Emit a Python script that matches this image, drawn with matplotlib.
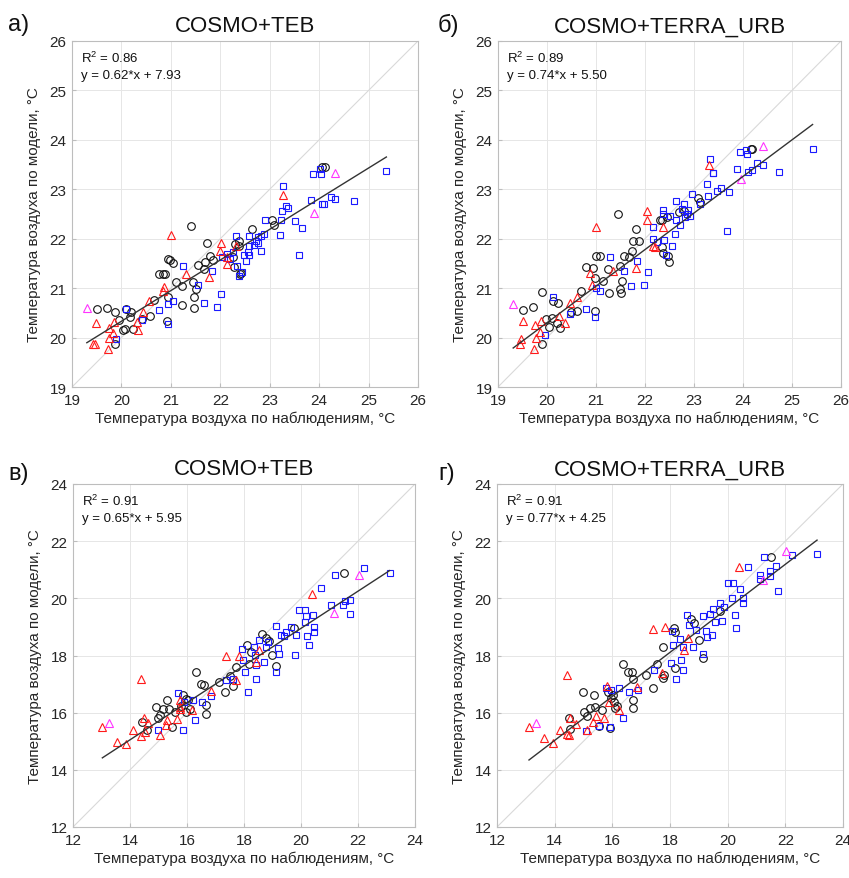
import numpy as np
import matplotlib
matplotlib.use('Agg')
import matplotlib.pyplot as plt

plt.rcParams['font.family'] = ['Liberation Sans', 'DejaVu Sans']

# ---- panel a: COSMO+TEB (summer) ----
a_blk_x = [19.50, 19.70, 19.87, 19.87, 19.96, 20.03, 20.08, 20.09, 20.17, 20.19, 20.24, 20.41, 20.58, 20.66,
           20.75, 20.85, 20.88, 20.95, 20.98, 20.93, 20.95, 21.05, 21.10, 21.22, 21.22, 21.41, 21.44, 21.46,
           21.46, 21.51, 21.54, 21.67, 21.69, 21.74, 21.79, 21.85, 22.25, 22.27, 22.29, 22.37, 22.40, 22.42,
           22.64, 23.04, 23.08, 24.05, 24.12, 22.37]
a_blk_y = [20.57, 20.59, 20.52, 19.87, 20.36, 20.16, 20.17, 20.58, 20.41, 20.52, 20.17, 20.38, 20.43, 20.77,
           21.29, 21.29, 21.29, 21.59, 21.56, 20.34, 20.82, 21.51, 21.12, 20.65, 21.04, 22.25, 21.12, 20.82,
           20.59, 20.98, 21.46, 21.38, 21.52, 21.91, 21.66, 21.56, 21.62, 21.42, 21.89, 21.96, 21.29, 21.30,
           22.20, 22.37, 22.27, 23.45, 23.45, 21.85]
a_blu_x = [19.90, 20.09, 20.41, 20.75, 20.95, 20.95, 21.04, 21.24, 21.54, 21.67, 21.93, 21.83, 22.02, 22.03,
           22.14, 22.20, 22.32, 22.25, 22.33, 22.37, 22.44, 22.47, 22.52, 22.57, 22.58, 22.59, 22.58, 22.68,
           22.72, 22.77, 22.83, 22.77, 22.83, 22.89, 22.91, 23.20, 23.22, 23.24, 23.26, 23.33, 23.38, 23.51,
           23.60, 23.66, 23.83, 23.87, 24.03, 24.02, 24.05, 24.10, 24.24, 24.32, 24.70, 25.36]
a_blu_y = [19.97, 20.57, 20.36, 20.55, 20.28, 20.67, 20.75, 21.44, 21.07, 20.70, 20.61, 21.35, 20.88, 21.62,
           21.69, 21.59, 22.05, 21.73, 21.44, 21.24, 21.33, 21.67, 21.54, 21.73, 21.67, 21.85, 22.05, 21.87,
           21.96, 22.03, 22.06, 21.91, 21.75, 22.09, 22.38, 22.08, 22.38, 22.56, 23.06, 22.66, 22.63, 22.35,
           21.67, 22.21, 22.79, 23.31, 23.31, 23.41, 22.70, 22.70, 22.84, 22.81, 22.76, 23.37]
a_red_x = [19.43, 19.46, 19.48, 19.72, 19.74, 19.74, 19.84, 19.82, 20.34, 20.31, 20.44, 20.55, 20.86, 20.84,
           21.00, 21.31, 21.78, 22.01, 22.00, 22.13, 22.13, 22.32, 23.26]
a_red_y = [19.87, 19.86, 20.30, 19.76, 20.19, 20.00, 20.32, 20.09, 20.16, 20.31, 20.51, 20.75, 21.02, 20.95,
           22.08, 21.29, 21.22, 21.91, 21.76, 21.62, 21.49, 21.86, 22.89]
a_mag_x = [19.30, 24.32, 23.90]
a_mag_y = [20.59, 23.33, 22.52]

# ---- panel b: COSMO+TERRA_URB (summer) ----
b_blk_x = [19.50, 19.72, 19.89, 19.89, 19.98, 20.05, 20.10, 20.13, 20.20, 20.23, 20.27, 20.48, 20.62, 20.69,
           20.80, 20.93, 20.98, 20.98, 21.01, 21.08, 21.14, 21.27, 21.25, 21.44, 21.48, 21.49, 21.50, 21.54,
           21.57, 21.68, 21.73, 21.76, 21.82, 21.88, 22.31, 22.34, 22.36, 22.44, 22.46, 22.48, 22.69, 22.80,
           23.09, 23.12, 24.16, 24.18, 22.34]
b_blk_y = [20.56, 20.61, 20.93, 19.88, 20.38, 20.22, 20.39, 20.73, 20.29, 20.69, 20.19, 20.51, 20.54, 20.95,
           21.43, 21.41, 20.54, 21.21, 21.65, 21.65, 21.14, 20.90, 21.38, 22.49, 21.45, 20.99, 20.90, 21.14,
           21.65, 21.62, 21.76, 21.95, 22.20, 21.96, 22.37, 21.84, 21.72, 22.44, 21.65, 21.52, 22.54, 22.56,
           22.83, 22.74, 23.81, 23.82, 22.37]
b_blu_x = [19.96, 20.12, 20.47, 20.80, 20.98, 21.01, 21.08, 21.29, 21.57, 21.71, 21.83, 21.97, 22.07, 22.16,
           22.17, 22.25, 22.37, 22.37, 22.39, 22.43, 22.50, 22.56, 22.61, 22.63, 22.63, 22.71, 22.75, 22.80,
           22.82, 22.85, 22.88, 22.92, 22.95, 23.12, 23.26, 23.29, 23.33, 23.38, 23.39, 23.46, 23.56, 23.67,
           23.72, 23.88, 23.94, 24.07, 24.09, 24.11, 24.18, 24.29, 24.40, 24.74, 25.42]
b_blu_y = [20.05, 20.82, 20.48, 20.58, 20.41, 21.01, 20.94, 21.63, 21.35, 21.04, 21.54, 21.06, 21.33, 22.23,
           21.99, 21.93, 22.59, 22.50, 21.97, 21.67, 22.45, 21.86, 22.10, 22.76, 22.38, 22.27, 22.61, 22.71,
           22.44, 22.50, 22.59, 22.45, 22.90, 22.71, 23.10, 22.86, 23.61, 23.33, 23.32, 22.97, 23.03, 22.16,
           22.95, 23.42, 23.76, 23.80, 23.71, 23.35, 23.39, 23.54, 23.49, 23.35, 23.81]
b_red_x = [19.45, 19.46, 19.50, 19.73, 19.76, 19.78, 19.86, 19.87, 20.25, 20.37, 20.46, 20.61, 20.88, 20.91,
           21.01, 21.35, 21.82, 22.05, 22.05, 22.17, 22.20, 22.36, 23.31]
b_red_y = [19.88, 19.97, 20.33, 19.77, 20.26, 19.99, 20.12, 20.34, 20.43, 20.29, 20.70, 20.82, 21.31, 21.07,
           22.23, 21.35, 21.41, 22.56, 22.38, 21.86, 21.84, 22.23, 23.50]
b_mag_x = [19.31, 24.40, 23.95]
b_mag_y = [20.68, 23.88, 23.20]

# ---- panel c: COSMO+TEB (second period) ----
c_blk_x = [14.43, 14.60, 14.92, 14.98, 15.04, 15.16, 15.30, 15.37, 15.49, 15.57, 15.80, 15.86, 15.95, 15.98,
           16.03, 16.09, 16.30, 16.50, 16.58, 16.65, 16.68, 17.12, 17.32, 17.52, 17.61, 17.71, 18.12, 18.18,
           18.26, 18.64, 18.78, 18.88, 18.99, 19.13, 19.75, 21.50]
c_blk_y = [15.67, 15.38, 16.20, 15.81, 15.93, 16.14, 16.43, 16.14, 15.50, 16.04, 16.25, 16.63, 16.49, 16.02,
           16.43, 16.14, 17.44, 17.01, 16.98, 15.96, 16.28, 17.09, 16.72, 17.30, 16.93, 17.59, 18.35, 17.71,
           18.12, 18.76, 18.61, 18.49, 18.03, 17.63, 18.97, 20.88]
c_blu_x = [14.98, 15.68, 15.86, 15.88, 16.21, 16.27, 16.54, 16.85, 17.38, 17.61, 17.94, 17.96, 18.02, 18.13,
           18.34, 18.37, 18.41, 18.43, 18.53, 18.69, 18.78, 18.84, 19.11, 19.13, 19.19, 19.22, 19.30, 19.39,
           19.49, 19.66, 19.78, 19.81, 19.93, 20.13, 20.13, 20.19, 20.21, 20.28, 20.42, 20.47, 20.47, 20.71,
           21.06, 21.18, 21.47, 21.53, 21.71, 21.73, 22.20, 23.11]
c_blu_y = [15.38, 16.70, 15.41, 16.39, 16.43, 15.76, 16.39, 16.60, 17.13, 17.19, 18.21, 17.83, 17.44, 16.72,
           18.29, 18.03, 17.68, 17.19, 18.53, 17.79, 18.29, 18.47, 17.42, 19.03, 18.26, 18.06, 18.72, 18.68,
           18.82, 18.99, 18.03, 18.70, 19.58, 19.58, 19.17, 19.38, 18.68, 18.35, 19.40, 18.99, 18.82, 20.36,
           19.77, 20.80, 19.75, 19.89, 19.93, 19.46, 21.06, 20.88]
c_red_x = [13.03, 13.54, 13.85, 14.11, 14.40, 14.40, 14.48, 14.51, 14.63, 15.06, 15.25, 15.30, 15.65, 15.74,
           15.77, 15.77, 16.19, 16.85, 17.38, 17.81, 17.73, 18.43, 18.53, 20.40]
c_red_y = [15.50, 14.97, 14.91, 15.41, 17.19, 15.18, 15.81, 15.34, 15.65, 15.23, 15.58, 15.76, 15.79, 16.43,
           16.20, 16.14, 16.08, 16.76, 17.98, 18.00, 17.13, 17.79, 18.18, 20.16]
c_mag_x = [13.26, 22.04, 21.15]
c_mag_y = [15.65, 20.83, 19.49]

# ---- panel d: COSMO+TERRA_URB (second period) ----
d_blk_x = [14.50, 14.53, 14.97, 15.01, 15.13, 15.22, 15.36, 15.40, 15.55, 15.63, 15.86, 15.92, 15.97, 16.01,
           16.06, 16.09, 16.17, 16.38, 16.55, 16.67, 16.70, 16.70, 16.73, 17.17, 17.40, 17.54, 17.75, 17.75,
           17.79, 18.14, 18.18, 18.18, 18.72, 18.84, 19.02, 19.16, 19.72, 21.50]
d_blk_y = [15.81, 15.44, 16.72, 16.02, 15.90, 16.16, 16.63, 16.20, 15.53, 16.08, 16.72, 15.46, 16.51, 16.63,
           16.37, 16.16, 16.23, 17.71, 17.44, 17.42, 16.46, 16.16, 17.19, 17.33, 16.86, 17.71, 18.29, 17.21,
           17.33, 18.96, 18.82, 17.56, 19.26, 19.14, 18.53, 17.91, 19.54, 21.44]
d_blu_x = [15.08, 15.55, 15.92, 15.78, 15.94, 16.24, 16.36, 16.59, 16.90, 17.45, 18.03, 18.06, 18.10, 18.21,
           18.35, 18.37, 18.44, 18.44, 18.58, 18.67, 18.79, 18.91, 19.14, 19.14, 19.25, 19.28, 19.37, 19.45,
           19.48, 19.56, 19.72, 19.80, 19.88, 20.00, 20.15, 20.20, 20.26, 20.30, 20.44, 20.53, 20.53, 20.69,
           21.11, 21.11, 21.27, 21.46, 21.48, 21.69, 21.73, 22.23, 23.10]
d_blu_y = [15.36, 15.53, 15.50, 16.86, 16.81, 16.86, 15.81, 16.74, 16.78, 17.51, 17.75, 18.84, 18.35, 17.19,
           18.56, 17.83, 17.48, 18.29, 19.40, 19.05, 18.29, 18.88, 19.38, 18.06, 18.84, 18.64, 19.46, 18.72,
           19.63, 19.17, 19.84, 19.19, 19.69, 20.54, 20.01, 20.54, 19.40, 18.96, 20.33, 20.01, 19.84, 21.09,
           20.80, 20.68, 21.44, 20.78, 20.94, 21.13, 20.24, 21.52, 21.56]
d_red_x = [13.11, 13.62, 13.95, 14.18, 14.43, 14.43, 14.50, 14.53, 14.73, 15.13, 15.34, 15.43, 15.71, 15.83,
           15.90, 16.24, 16.87, 17.40, 17.83, 17.71, 18.49, 18.61, 20.41]
d_red_y = [15.50, 15.11, 14.95, 15.41, 17.33, 15.26, 15.23, 15.81, 15.61, 15.38, 15.67, 15.90, 15.81, 16.95,
           16.39, 16.08, 16.90, 18.91, 18.99, 17.40, 18.18, 18.61, 21.09]
d_mag_x = [13.34, 22.03, 21.22]
d_mag_y = [15.65, 21.67, 20.65]

titles = ['COSMO+TEB', 'COSMO+TERRA_URB', 'COSMO+TEB', 'COSMO+TERRA_URB']
letters = ['а)', 'б)', 'в)', 'г)']
r2 = [0.86, 0.89, 0.91, 0.91]
slope = [0.62, 0.74, 0.65, 0.77]
icpt = [7.93, 5.50, 5.95, 4.25]
lims = [(19, 26), (19, 26), (12, 24), (12, 24)]
ticks = [np.arange(19, 27, 1), np.arange(19, 27, 1), np.arange(12, 25, 2), np.arange(12, 25, 2)]

panels = [
    (a_blk_x, a_blk_y, a_blu_x, a_blu_y, a_red_x, a_red_y, a_mag_x, a_mag_y),
    (b_blk_x, b_blk_y, b_blu_x, b_blu_y, b_red_x, b_red_y, b_mag_x, b_mag_y),
    (c_blk_x, c_blk_y, c_blu_x, c_blu_y, c_red_x, c_red_y, c_mag_x, c_mag_y),
    (d_blk_x, d_blk_y, d_blu_x, d_blu_y, d_red_x, d_red_y, d_mag_x, d_mag_y),
]

W, H = 849, 879
# axes boxes in pixels: left, top, right, bottom
boxes = [(72, 42, 418, 388), (498, 42, 841, 388), (73, 485, 415, 828), (497, 485, 843, 828)]

fig = plt.figure(figsize=(W / 100, H / 100), dpi=100)

for i in range(4):
    l, t, r, b = boxes[i]
    ax = fig.add_axes([l / W, 1 - b / H, (r - l) / W, (b - t) / H])
    bx, by, ux, uy, rx, ry, mx, my = panels[i]
    lo, hi = lims[i]
    ax.plot([lo, hi], [lo, hi], '-', color='#d9d9d9', lw=0.8, zorder=1)
    ax.plot(bx, by, 'o', mfc='none', mec='#111111', ms=5.5, mew=0.8, zorder=3)
    ax.plot(ux, uy, 's', mfc='none', mec='#1a1aff', ms=4.2, mew=0.8, zorder=3)
    ax.plot(rx, ry, '^', mfc='none', mec='#ff1a1a', ms=5.5, mew=0.8, zorder=3)
    ax.plot(mx, my, '^', mfc='none', mec='#ff33ff', ms=5.5, mew=0.8, zorder=3)
    allx = np.concatenate([bx, ux, rx, mx])
    xx = np.array([allx.min(), allx.max()])
    ax.plot(xx, slope[i] * xx + icpt[i], '-', color='#333333', lw=1.0, zorder=4)
    ax.set_xlim(lo, hi)
    ax.set_ylim(lo, hi)
    ax.set_xticks(ticks[i])
    ax.set_yticks(ticks[i])
    ax.grid(True, color='#e6e6e6', lw=0.7)
    ax.set_axisbelow(True)
    for s in ax.spines.values():
        s.set_color('#bdbdbd')
        s.set_linewidth(0.8)
    ax.tick_params(direction='in', length=3, color='#bdbdbd', labelsize=11, labelcolor='#262626', pad=4)
    ax.text(0.025, 0.975, '$\\mathregular{R^2}$ = %.2f\ny = %.2f*x + %.2f' % (r2[i], slope[i], icpt[i]),
            transform=ax.transAxes, ha='left', va='top', fontsize=9.5, color='#111111', linespacing=1.5)
    ax.set_title(titles[i], fontsize=16, pad=7, color='#111111')
    ax.set_ylabel('Температура воздуха по модели, °C', fontsize=11, color='#262626', labelpad=6)
    ax.set_xlabel('Температура воздуха по наблюдениям, °C', fontsize=11, color='#262626', labelpad=3)
    lx = 8 if i % 2 == 0 else 438
    ly = 25 if i < 2 else 474
    fig.text(lx / W, 1 - ly / H, letters[i], fontsize=17, va='center', ha='left', color='#111111')

fig.savefig('out.png', dpi=100)
